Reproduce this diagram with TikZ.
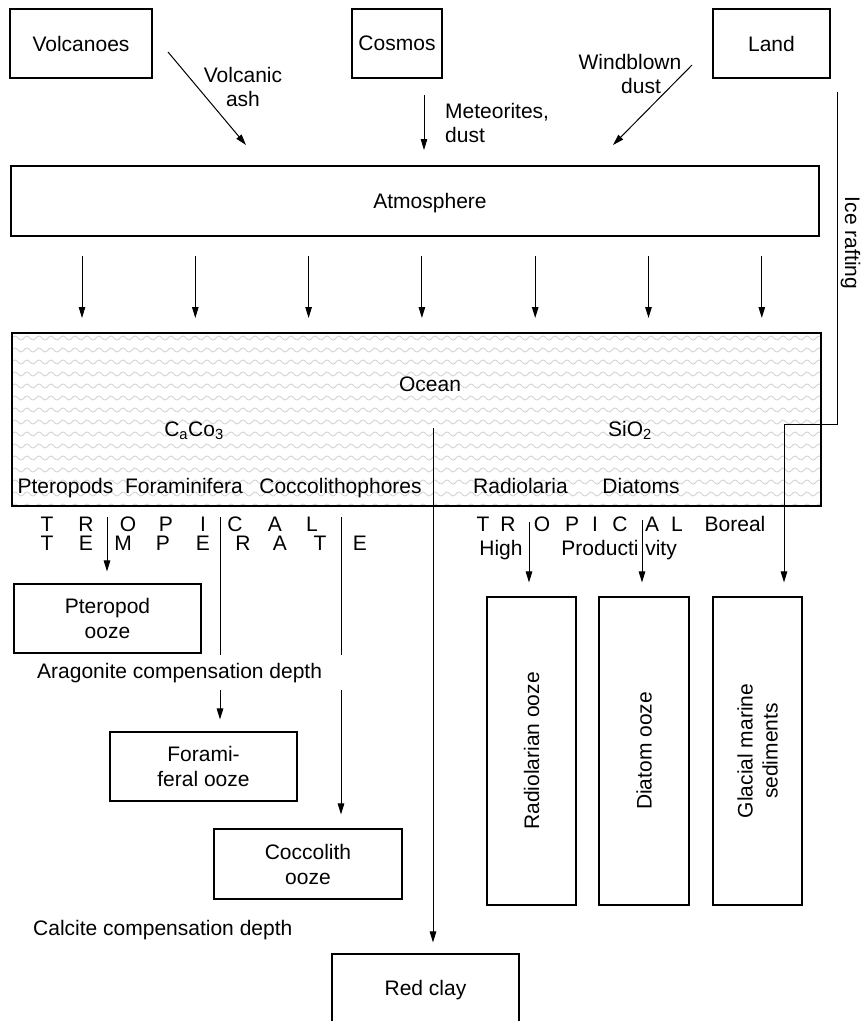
\documentclass[tikz,border=0pt]{standalone}
\usepackage{fontspec}
\setmainfont{Liberation Sans}
\usetikzlibrary{arrows.meta}
\newcommand\dfont{\fontsize{21}{25}\selectfont}
\begin{document}
\begin{tikzpicture}[x=1pt,y=-1pt,
  box/.style={draw, line width=1.1pt, inner sep=0pt, align=center, font=\dfont},
  lbl/.style={inner sep=0pt, font=\dfont, anchor=base},
  arr/.style={line width=1pt, -{Triangle[length=11pt,width=6.5pt]}},
  ln/.style={line width=1pt},
  wave/.style={black!20, line width=0.7pt}]
\clip (0,0) rectangle (862,1021);
\fill[white] (0,0) rectangle (862,1021);

% top sources
\node[box, minimum width=142pt, minimum height=69pt] (volc) at (81,43.5) {Volcanoes};
\node[box, minimum width=90pt, minimum height=69pt] (cosm) at (397,43.5) {Cosmos};
\node[box, minimum width=117pt, minimum height=69pt] (land) at (771.5,43.5) {Land};

\coordinate (v0) at (168,52); \coordinate (v1) at (246,145);
\draw[arr] (v0) -- (v1);
\node[lbl] (volclbl1) at (243,82) {Volcanic};
\node[lbl] (volclbl2) at (243,106) {ash};

\coordinate (m0) at (424,95); \coordinate (m1) at (424,150);
\draw[arr] (m0) -- (m1);
\node[lbl, anchor=base west] (metlbl1) at (445,118) {Meteorites,};
\node[lbl, anchor=base west] (metlbl2) at (445,142) {dust};

\coordinate (w0) at (692,65); \coordinate (w1) at (613,145);
\draw[arr] (w0) -- (w1);
\node[lbl] (windlbl1) at (630,69) {Windblown};
\node[lbl] (windlbl2) at (641,93) {dust};

% atmosphere
\node[box, minimum width=808pt, minimum height=70pt] (atm) at (415,201) {};
\node[lbl] (atmlbl) at (430,208.5) {Atmosphere};
\foreach \i in {0,...,6} {
  \coordinate (a\i) at ({82+113.3*\i},256);
  \coordinate (b\i) at ({82+113.3*\i},318);
  \draw[arr] (a\i) -- (b\i);
}

% ocean
\begin{scope}
  \clip (12,333) rectangle (821,506);
  \foreach \r in {0,...,14} {
    \draw[wave] (12,{338+12*\r}) \foreach \k in {1,...,68} { sin ++(3,-2) cos ++(3,2) sin ++(3,2) cos ++(3,-2) };
  }
\end{scope}
\node[box, minimum width=809pt, minimum height=173pt] (ocean) at (416.5,419.5) {};
\node[lbl] (oceanlbl) at (430,391.5) {Ocean};
\node[lbl] (caco) at (194,436) {C\textsubscript{a}Co\textsubscript{3}};
\node[lbl] (sio) at (630,436) {SiO\textsubscript{2}};
\node[lbl] (ptl) at (65.5,493) {Pteropods};
\node[lbl] (fol) at (184,493) {Foraminifera};
\node[lbl] (col) at (340.5,493) {Coccolithophores};
\node[lbl] (ral) at (520.5,493) {Radiolaria};
\node[lbl] (dil) at (641,493) {Diatoms};

% belt labels
\foreach \l/\x [count=\n] in {T/47,R/86,O/128,P/166,I/203,C/235,A/275,L/312}
  \node[lbl] (trl\n) at (\x,531.5) {\l};
\foreach \l/\x [count=\n] in {T/47,E/86,M/123,P/163,E/203,R/243,A/280,T/320,E/360}
  \node[lbl] (tel\n) at (\x,550.5) {\l};
\foreach \l/\x [count=\n] in {T/483,R/508,O/542,P/572,I/595,C/620,A/652,L/677}
  \node[lbl] (trr\n) at (\x,531.5) {\l};
\node[lbl] (boreal) at (735,531.5) {Boreal};
\node[lbl] (high) at (501,555.5) {High};
\node[lbl] (prod1) at (600,555.5) {Producti};
\node[lbl] (prod2) at (661,555.5) {vity};

% calcareous boxes
\node[box, minimum width=187pt, minimum height=69pt] (ptbox) at (107.5,618.5) {Pteropod\\ooze};
\node[box, minimum width=187pt, minimum height=69pt] (fobox) at (203.5,766.5) {Forami-\\feral ooze};
\node[box, minimum width=188pt, minimum height=70pt] (cobox) at (308,864) {Coccolith\\ooze};
\node[box, minimum width=187pt, minimum height=72pt] (rcbox) at (425.5,990) {Red clay};

\node[lbl, anchor=base west] (arag) at (37,678.5) {Aragonite compensation depth};
\node[lbl, anchor=base west] (calc) at (33,935.5) {Calcite compensation depth};

\coordinate (p0) at (107,517);
\draw[arr, shorten >=12pt] (p0) -- (p0 |- ptbox.north);

\coordinate (f0) at (220,517); \coordinate (f1) at (220,655); \coordinate (f2) at (220,690);
\draw[ln] (f0) -- (f1);
\draw[arr, shorten >=12pt] (f2) -- (f2 |- fobox.north);

\coordinate (c0) at (341,517); \coordinate (c1) at (341,655); \coordinate (c2) at (341,690);
\draw[ln] (c0) -- (c1);
\draw[arr, shorten >=14pt] (c2) -- (c2 |- cobox.north);

\coordinate (r0) at (433,428);
\draw[arr, shorten >=11pt] (r0) -- (r0 |- rcbox.north);

% siliceous and glacial boxes
\node[box, rotate=90, minimum width=308pt, minimum height=89pt] (radbox) at (531.5,751) {Radiolarian ooze};
\node[box, rotate=90, minimum width=308pt, minimum height=90pt] (diabox) at (644,751) {Diatom ooze};
\node[box, rotate=90, minimum width=308pt, minimum height=89pt] (glabox) at (757.5,751) {Glacial marine\\sediments};

\coordinate (ra0) at (529,522);
\draw[arr, shorten >=14pt] (ra0) -- (ra0 |- radbox.east);
\coordinate (di0) at (642,520);
\draw[arr, shorten >=14pt] (di0) -- (di0 |- diabox.east);

\coordinate (ice0) at (837,92); \coordinate (ice1) at (784,424);
\draw[arr, shorten >=14pt] (ice0) |- (ice1) -- (ice1 |- glabox.east);
\node[font=\dfont, rotate=-90, inner sep=0pt] (icelbl) at (850.5,243) {Ice rafting};
\end{tikzpicture}
\end{document}
